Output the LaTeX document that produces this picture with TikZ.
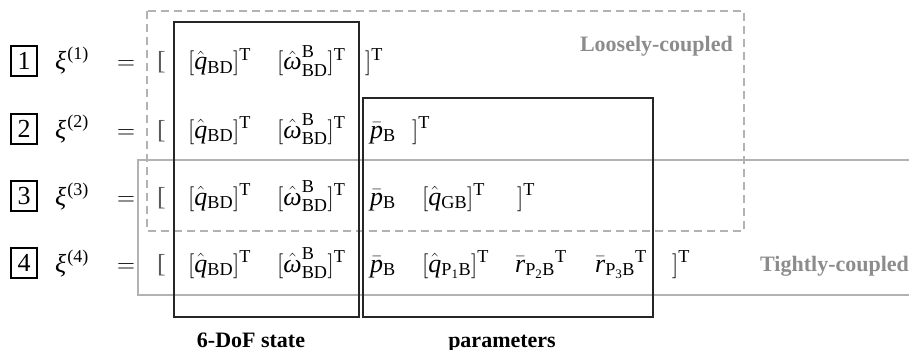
\documentclass[tikz,border=0pt]{standalone}
\usepackage{amsmath}
\usepackage{fontspec}
\setmainfont{Liberation Serif}
\definecolor{lightg}{RGB}{178,178,178}
\definecolor{labelg}{RGB}{140,140,140}
\definecolor{brk}{RGB}{90,90,90}
\newcommand{\gom}{\text{\itshape ω}}
\newcommand{\Tp}{^{\mathrm{T}}}
\newcommand{\xin}[1]{{\itshape ξ}\kern1pt\raisebox{10pt}{\fontsize{18}{20}\selectfont(#1)}}
\begin{document}
\begin{tikzpicture}[x=1pt,y=-1pt,
  every node/.style={inner sep=0pt, font=\fontsize{26}{30}\selectfont},
  txt/.style={anchor=base west},
  numbox/.style={draw, line width=1.3pt, minimum width=26pt, minimum height=30pt, anchor=center},
  brkt/.style={anchor=base west, text=brk},
  grouplabel/.style={text=labelg, font=\fontsize{22}{26}\selectfont\bfseries},
  boldlabel/.style={anchor=base, font=\fontsize{22}{26}\selectfont\bfseries},
  looseline/.style={draw=lightg, line width=1.3pt, dash pattern=on 8pt off 5pt},
  tightline/.style={draw=lightg, line width=1.5pt},
  blockbox/.style={draw=black!85, line width=2pt}]
\useasboundingbox (0,0) rectangle (909,350);
% group frames
\draw[looseline] (147,11) rectangle (744,231);
\draw[tightline] (915,160) -- (138,160) -- (138,295) -- (915,295);
\draw[blockbox] (174,22) rectangle (359,317);
\draw[blockbox] (363,98) rectangle (653,317);
% labels
\node[grouplabel, anchor=base east] (loose) at (733,52) {Loosely-coupled};
\node[grouplabel, anchor=base west] (tight) at (760,271) {Tightly-coupled};
\node[boldlabel] (dof) at (251,347) {6-DoF state};
\node[boldlabel] (par) at (502,347) {parameters};
% row 1
\node[numbox] (n1) at (24,61) {1};
\node[txt] (xi1) at (55,70) {\xin{1}};
\node[txt] (eq1) at (117,70) {$=$};
\node[brkt] (lb1) at (157,70) {[};
\node[txt] (q1) at (188,70) {$[\hat{\mathit{q}}_{\mathrm{BD}}]\Tp$};
\node[txt] (w1) at (277,70) {$[\hat{\gom}^{\mathrm{B}}_{\mathrm{BD}}]\Tp$};
\node[txt] (rb1) at (365,70) {$]\Tp$};
% row 2
\node[numbox] (n2) at (24,129) {2};
\node[txt] (xi2) at (55,138) {\xin{2}};
\node[txt] (eq2) at (117,138) {$=$};
\node[brkt] (lb2) at (157,138) {[};
\node[txt] (q2) at (188,138) {$[\hat{\mathit{q}}_{\mathrm{BD}}]\Tp$};
\node[txt] (w2) at (277,138) {$[\hat{\gom}^{\mathrm{B}}_{\mathrm{BD}}]\Tp$};
\node[txt] (p2) at (370,138) {$\bar{\mathit{p}}_{\mathrm{B}}$};
\node[txt] (rb2) at (412,138) {$]\Tp$};
% row 3
\node[numbox] (n3) at (24,196) {3};
\node[txt] (xi3) at (55,205) {\xin{3}};
\node[txt] (eq3) at (117,205) {$=$};
\node[brkt] (lb3) at (157,205) {[};
\node[txt] (q3) at (188,205) {$[\hat{\mathit{q}}_{\mathrm{BD}}]\Tp$};
\node[txt] (w3) at (277,205) {$[\hat{\gom}^{\mathrm{B}}_{\mathrm{BD}}]\Tp$};
\node[txt] (p3) at (370,205) {$\bar{\mathit{p}}_{\mathrm{B}}$};
\node[txt] (g3) at (422,205) {$[\hat{\mathit{q}}_{\mathrm{GB}}]\Tp$};
\node[txt] (rb3) at (517,205) {$]\Tp$};
% row 4
\node[numbox] (n4) at (24,263) {4};
\node[txt] (xi4) at (55,272) {\xin{4}};
\node[txt] (eq4) at (117,272) {$=$};
\node[brkt] (lb4) at (157,272) {[};
\node[txt] (q4) at (188,272) {$[\hat{\mathit{q}}_{\mathrm{BD}}]\Tp$};
\node[txt] (w4) at (277,272) {$[\hat{\gom}^{\mathrm{B}}_{\mathrm{BD}}]\Tp$};
\node[txt] (p4) at (370,272) {$\bar{\mathit{p}}_{\mathrm{B}}$};
\node[txt] (g4) at (422,272) {$[\hat{\mathit{q}}_{\mathrm{P_1B}}]\Tp$};
\node[txt] (r2) at (515,272) {$\bar{\mathit{r}}_{\mathrm{P_2B}}{}\Tp$};
\node[txt] (r3) at (595,272) {$\bar{\mathit{r}}_{\mathrm{P_3B}}{}\Tp$};
\node[txt] (rb4) at (672,272) {$]\Tp$};
\end{tikzpicture}
\end{document}
